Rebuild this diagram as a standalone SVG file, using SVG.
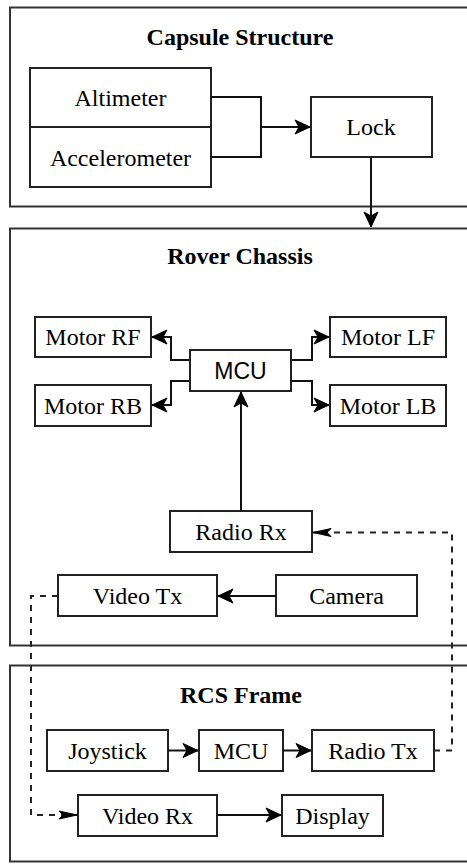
<svg xmlns="http://www.w3.org/2000/svg" width="467" height="864" viewBox="0 0 467 864">
<style>
.frame{fill:#fff;stroke:#333;stroke-width:2}
.box{fill:#fff;stroke:#222;stroke-width:2}
.t{font-family:"Liberation Serif","Times New Roman",serif;font-size:24px;fill:#000;text-anchor:middle}
.tb{font-family:"Liberation Serif","Times New Roman",serif;font-size:24px;font-weight:bold;fill:#000;text-anchor:middle}
.ts{font-family:"Liberation Sans",Arial,sans-serif;font-size:23px;fill:#000;text-anchor:middle}
.c{fill:none;stroke:#111;stroke-width:2}
.d{fill:none;stroke:#222;stroke-width:2;stroke-dasharray:6 6}
</style>
<defs>
<marker id="a" viewBox="-16 -8 17 16" refX="0" refY="0" markerWidth="17" markerHeight="16" markerUnits="userSpaceOnUse" orient="auto">
<path d="M0,0 L-15,-7 L-11,0 L-15,7 Z" fill="#000" stroke="#000" stroke-width="1"/>
</marker>
<marker id="ad" viewBox="-20 -5 21 10" refX="0" refY="0" markerWidth="21" markerHeight="10" markerUnits="userSpaceOnUse" orient="auto">
<path d="M0,0 L-18,-4 L-14,0 L-18,4 Z" fill="#000" stroke="#000" stroke-width="1"/>
</marker>
</defs>

<g id="capsule-frame">
<rect class="frame" x="10" y="7.5" width="470" height="199"/>
<text class="tb" x="240" y="45">Capsule Structure</text>
</g>
<g id="rover-frame">
<rect class="frame" x="10" y="228.5" width="470" height="417"/>
<text class="tb" x="240" y="264">Rover Chassis</text>
</g>
<g id="rcs-frame">
<rect class="frame" x="10" y="665.5" width="470" height="196"/>
<text class="tb" x="241" y="703">RCS Frame</text>
</g>

<g id="sensors">
<rect class="box" x="30" y="68" width="181" height="119"/>
<line class="box" x1="30" y1="127" x2="211" y2="127"/>
<text class="t" x="120.5" y="105.5">Altimeter</text>
<text class="t" x="120.5" y="165.5">Accelerometer</text>
</g>
<g id="lock">
<rect class="box" x="311" y="97" width="121" height="60"/>
<text class="t" x="371" y="135">Lock</text>
</g>

<g id="motor-rf"><rect class="box" x="35" y="317" width="116" height="40"/><text class="t" x="93" y="345">Motor RF</text></g>
<g id="motor-rb"><rect class="box" x="35" y="385" width="116" height="41"/><text class="t" x="93" y="414">Motor RB</text></g>
<g id="motor-lf"><rect class="box" x="330" y="317" width="116" height="40"/><text class="t" x="388" y="345">Motor LF</text></g>
<g id="motor-lb"><rect class="box" x="330" y="385" width="116" height="41"/><text class="t" x="388" y="414">Motor LB</text></g>
<g id="mcu-rover"><rect class="box" x="190" y="350" width="101" height="41"/><text class="ts" x="240.5" y="378.5">MCU</text></g>
<g id="radio-rx"><rect class="box" x="170" y="511" width="142" height="41"/><text class="t" x="241" y="539.5">Radio Rx</text></g>
<g id="video-tx"><rect class="box" x="58" y="575" width="159" height="41"/><text class="t" x="137.5" y="603.5">Video Tx</text></g>
<g id="camera"><rect class="box" x="276" y="575" width="141" height="41"/><text class="t" x="346.5" y="603.5">Camera</text></g>

<g id="joystick"><rect class="box" x="47" y="730" width="121" height="41"/><text class="t" x="107.5" y="758.5">Joystick</text></g>
<g id="mcu-rcs"><rect class="box" x="199" y="730" width="84" height="41"/><text class="t" x="241" y="758.5">MCU</text></g>
<g id="radio-tx"><rect class="box" x="312" y="730" width="122" height="41"/><text class="t" x="373" y="758.5">Radio Tx</text></g>
<g id="video-rx"><rect class="box" x="78" y="795" width="139" height="41"/><text class="t" x="147.5" y="823.5">Video Rx</text></g>
<g id="display"><rect class="box" x="282" y="795" width="101" height="41"/><text class="t" x="332.5" y="823.5">Display</text></g>

<g id="connectors">
<path class="c" d="M211,97 H261 V157 H211"/>
<path class="c" d="M261,127 H310" marker-end="url(#a)"/>
<path class="c" d="M371,157 V227" marker-end="url(#a)"/>
<path class="c" d="M190,360 H171 V337 H152" marker-end="url(#a)"/>
<path class="c" d="M190,381 H171 V405 H152" marker-end="url(#a)"/>
<path class="c" d="M291,360 H312 V337 H329" marker-end="url(#a)"/>
<path class="c" d="M291,381 H312 V405 H329" marker-end="url(#a)"/>
<path class="c" d="M241,511 V392" marker-end="url(#a)"/>
<path class="c" d="M276,596 H218" marker-end="url(#a)"/>
<path class="c" d="M168,750.5 H198" marker-end="url(#a)"/>
<path class="c" d="M283,750.5 H311" marker-end="url(#a)"/>
<path class="c" d="M217,815 H281" marker-end="url(#a)"/>
<path class="d" d="M434,750.5 H452 V532.5 H313" marker-end="url(#ad)"/>
<path class="d" d="M58,596 H31 V815 H77" marker-end="url(#ad)"/>
</g>
</svg>
